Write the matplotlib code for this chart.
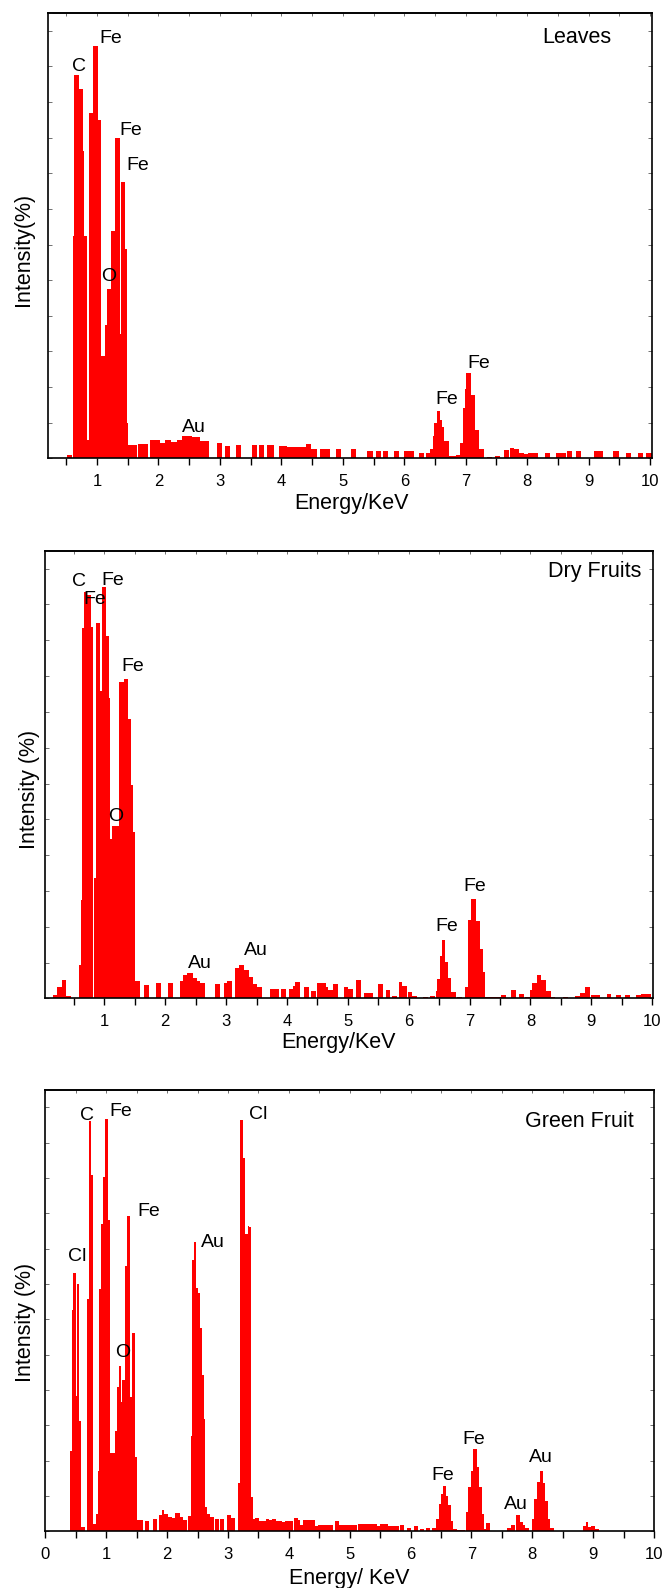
import matplotlib
matplotlib.use("Agg")
import matplotlib.pyplot as plt
from matplotlib.ticker import MultipleLocator
import numpy as np

plt.rcParams['font.family'] = ['Liberation Sans', 'DejaVu Sans']

# EDX spectra: bin start energy (keV) and relative intensity (%)
leaves_energy = [0.51, 0.61, 0.63, 0.715, 0.77, 0.79, 0.84, 0.87, 0.935, 1.015,
                 1.07, 1.125, 1.165, 1.235, 1.29, 1.375, 1.39, 1.45, 1.49, 1.505,
                 1.575, 1.67, 1.74, 1.87, 1.95, 2.03, 2.10, 2.16, 2.21, 2.30,
                 2.38, 2.46, 2.54, 2.61, 2.68, 2.74, 2.95, 3.08, 3.26, 3.52,
                 3.63, 3.76, 3.80, 3.96, 4.04, 4.10, 4.17, 4.24, 4.31, 4.40,
                 4.49, 4.63, 4.70, 4.89, 5.13, 5.40, 5.54, 5.65, 5.83, 6.00,
                 6.07, 6.24, 6.35, 6.42, 6.46, 6.49, 6.53, 6.58, 6.62, 6.65,
                 6.73, 6.77, 6.84, 6.91, 6.96, 6.99, 7.01, 7.08, 7.15, 7.22,
                 7.35, 7.47, 7.62, 7.72, 7.79, 7.87, 7.94, 8.02, 8.09, 8.29,
                 8.47, 8.55, 8.64, 8.79, 9.08, 9.15, 9.40, 9.61, 9.80, 9.94]
leaves_counts = [0.7, 50, 86, 83, 69, 50, 4, 77.5, 92.6, 76,
                 23, 30, 38, 51, 72, 28, 62, 47, 8, 3.0,
                 3.0, 3.1, 3.1, 4.0, 4.0, 3.5, 4.2, 4.2, 3.7, 4.0,
                 5.0, 5.0, 4.8, 4.8, 3.8, 3.8, 3.5, 2.8, 3.0, 3.0,
                 3.0, 2.9, 2.9, 2.8, 2.8, 2.5, 2.5, 2.5, 2.5, 3.2,
                 2.0, 2.0, 2.0, 2.0, 2.0, 1.6, 1.6, 1.6, 1.6, 1.6,
                 1.6, 1.2, 1.2, 2.0, 5.0, 8.0, 10.6, 8.5, 7.1, 3.9,
                 0.5, 0.6, 0.8, 3.4, 11.2, 15.5, 19.1, 14.2, 6.4, 2.2,
                 0.2, 0.5, 1.9, 2.4, 2.0, 1.3, 0.9, 1.1, 1.1, 1.1,
                 1.3, 1.3, 1.6, 1.6, 1.6, 1.6, 1.6, 1.3, 1.3, 1.3]

dry_energy = [0.16, 0.22, 0.30, 0.37, 0.58, 0.61, 0.63, 0.66, 0.72, 0.78,
              0.81, 0.83, 0.86, 0.93, 0.96, 1.03, 1.07, 1.09, 1.13, 1.19,
              1.24, 1.32, 1.39, 1.43, 1.47, 1.50, 1.65, 1.85, 2.04, 2.24,
              2.29, 2.35, 2.40, 2.45, 2.52, 2.57, 2.82, 2.97, 3.01, 3.15,
              3.22, 3.29, 3.38, 3.45, 3.51, 3.72, 3.79, 3.91, 4.04, 4.10,
              4.14, 4.28, 4.39, 4.50, 4.57, 4.64, 4.68, 4.76, 4.94, 5.01,
              5.13, 5.27, 5.34, 5.50, 5.62, 5.72, 5.84, 5.89, 5.99, 6.06,
              6.23, 6.35, 6.45, 6.47, 6.52, 6.55, 6.60, 6.65, 6.69, 6.79,
              6.92, 6.98, 7.03, 7.10, 7.17, 7.22, 7.26, 7.31, 7.39, 7.47,
              7.52, 7.68, 7.81, 7.91, 7.99, 8.03, 8.11, 8.18, 8.26, 8.33,
              8.54, 8.73, 8.82, 8.89, 9.00, 9.07, 9.25, 9.40, 9.55, 9.74,
              9.82, 9.90]
dry_counts = [0.7, 2.5, 4.1, 0.5, 7.4, 22, 82.7, 90.8, 90, 83,
              0, 27, 83.8, 68.6, 92, 81, 67, 35.7, 38.4, 38.4,
              70.7, 71.3, 62.5, 47.6, 37.2, 3.9, 2.9, 3.5, 3.5, 3.9,
              5.2, 5.6, 5.6, 4.5, 3.9, 3.4, 3.2, 3.4, 3.9, 6.8,
              7.4, 6.4, 4.8, 3.1, 2.6, 2.2, 2.2, 2.2, 2.2, 2.8,
              3.7, 2.6, 1.7, 3.4, 3.4, 2.5, 1.9, 3.2, 2.6, 2.2,
              4.2, 1.2, 1.2, 3.2, 1.9, 0.6, 3.7, 2.8, 1.5, 0.6,
              0.4, 0.6, 1.7, 4.3, 9.5, 13.0, 8.2, 4.5, 1.5, 0.4,
              2.5, 17.6, 22.2, 17.3, 11.0, 5.8, 0.3, 0.4, 0.2, 0.4,
              0.7, 1.9, 1.0, 0.4, 1.9, 3.4, 5.2, 4.1, 1.7, 0.2,
              0.2, 0.6, 1.2, 2.5, 0.8, 0.8, 1.0, 0.8, 0.8, 0.8,
              1.0, 1.0]

green_energy = [0.40, 0.43, 0.46, 0.50, 0.51, 0.55, 0.59, 0.68, 0.71, 0.75,
                0.78, 0.835, 0.857, 0.885, 0.912, 0.94, 0.978, 1.023, 1.067, 1.10,
                1.148, 1.17, 1.203, 1.246, 1.257, 1.312, 1.345, 1.394, 1.427, 1.465,
                1.504, 1.532, 1.643, 1.77, 1.87, 1.908, 1.947, 2.02, 2.074, 2.123,
                2.17, 2.212, 2.257, 2.34, 2.385, 2.406, 2.439, 2.473, 2.506, 2.544,
                2.572, 2.60, 2.628, 2.655, 2.71, 2.794, 2.876, 2.987, 3.042, 3.17,
                3.203, 3.247, 3.28, 3.32, 3.352, 3.385, 3.413, 3.45, 3.51, 3.57,
                3.63, 3.68, 3.73, 3.79, 3.84, 3.88, 3.94, 4.00, 4.09, 4.15,
                4.18, 4.24, 4.30, 4.36, 4.43, 4.48, 4.54, 4.60, 4.66, 4.76,
                4.82, 4.88, 4.94, 5.00, 5.06, 5.14, 5.20, 5.26, 5.32, 5.38,
                5.44, 5.50, 5.56, 5.63, 5.69, 5.75, 5.83, 5.94, 6.05, 6.16,
                6.26, 6.35, 6.41, 6.46, 6.50, 6.54, 6.58, 6.62, 6.66, 6.70,
                6.76, 6.83, 6.905, 6.95, 6.99, 7.03, 7.09, 7.12, 7.17, 7.21,
                7.24, 7.33, 7.42, 7.50, 7.58, 7.65, 7.74, 7.79, 7.84, 7.88,
                7.99, 8.03, 8.07, 8.12, 8.17, 8.21, 8.25, 8.29, 8.45, 8.60,
                8.72, 8.84, 8.88, 8.92, 8.96, 9.03, 9.28, 9.47, 9.66]
green_counts = [18.1, 50.2, 58.5, 30.7, 55.9, 25, 1.0, 52.7, 92.8, 80.6,
                1.8, 4, 13.6, 54.9, 69.6, 80.3, 93.4, 70.4, 17.8, 17.8,
                22.8, 32.8, 37.5, 29.4, 34.3, 60.0, 71.4, 30.5, 44.8, 16.9,
                2.6, 2.7, 2.4, 2.9, 3.7, 4.8, 3.9, 3.3, 3.1, 4.2,
                4.2, 3.3, 2.7, 3.5, 21.6, 61.4, 65.6, 55.1, 54, 46,
                35.4, 25.4, 5.6, 4, 3.3, 2.9, 2.9, 3.7, 3.1, 10.9,
                93.2, 84.5, 67.3, 69.2, 68.8, 7.9, 2.9, 3.1, 2.4, 2.4,
                2.9, 2.5, 2.9, 2.4, 2.4, 2.1, 2.4, 2.4, 3.1, 2.5,
                1.5, 2.6, 2.6, 2.6, 1.3, 1.5, 1.5, 1.5, 1.5, 2.4,
                1.5, 1.5, 1.5, 1.5, 1.5, 1.7, 1.7, 1.7, 1.7, 1.7,
                1.3, 1.6, 1.6, 1.3, 1.3, 1.3, 1.5, 0.7, 1.3, 0.5,
                0.7, 0.75, 2.8, 6.2, 8.4, 10.2, 8.1, 6.0, 2.4, 0.5,
                0.4, 0.4, 4.3, 10, 13.7, 18.6, 14.5, 10, 3.9, 0.5,
                2.0, 0.15, 0.15, 0.15, 0.7, 1.4, 3.7, 2.2, 1.4, 0.7,
                2.8, 7.3, 11.2, 13.7, 10.9, 6.9, 2.8, 0.7, 0.2, 0.2,
                0.2, 1.3, 2.2, 0.9, 1.3, 0.5, 0.15, 0.15, 0.15]

# peak labels: (text, energy, intensity)
leaves_peaks = [('C', 0.71, 88.1), ('Fe', 1.23, 94.3), ('Fe', 1.55, 73.6),
                ('Fe', 1.66, 65.7), ('O', 1.19, 40.8), ('Au', 2.57, 6.9),
                ('Fe', 6.69, 13.2), ('Fe', 7.21, 21.2)]
dry_peaks = [('C', 0.59, 93.1), ('Fe', 0.85, 89.1), ('Fe', 1.14, 93.4),
             ('Fe', 1.47, 74.1), ('O', 1.18, 40.6), ('Au', 2.57, 7.8),
             ('Au', 3.49, 10.8), ('Fe', 6.63, 16.0), ('Fe', 7.09, 24.9)]
green_peaks = [('Cl', 0.52, 62.3), ('C', 0.68, 94.1), ('Fe', 1.24, 95.1),
               ('Fe', 1.69, 72.3), ('O', 1.27, 40.4), ('Au', 2.75, 65.4),
               ('Cl', 3.49, 94.4), ('Fe', 6.53, 12.6), ('Fe', 7.03, 20.9),
               ('Au', 7.73, 6.2), ('Au', 8.14, 16.7)]

panels = [
    dict(energy=leaves_energy, counts=leaves_counts, peaks=leaves_peaks,
         name='Leaves', name_pos=(8.81, 94.6), ylabel='Intensity(%)',
         xlabel='Energy/KeV', rect=[0.0721, 0.7114, 0.9128, 0.2804],
         xlim=(0.2, 10.03), wmax=0.085, ylab_xy=(-0.0235, 0.468), xlab_xy=(0.502, -0.077)),
    dict(energy=dry_energy, counts=dry_counts, peaks=dry_peaks,
         name='Dry Fruits', name_pos=(9.06, 95.3), ylabel='Intensity (%)',
         xlabel='Energy/KeV', rect=[0.0684, 0.3713, 0.9187, 0.2819],
         xlim=(0.03, 10.02), wmax=0.08, ylab_xy=(-0.0095, 0.467), xlab_xy=(0.482, -0.075)),
    dict(energy=green_energy, counts=green_counts, peaks=green_peaks,
         name='Green Fruit', name_pos=(8.78, 92.7), ylabel='Intensity (%)',
         xlabel='Energy/ KeV', rect=[0.0687, 0.0356, 0.9192, 0.2783],
         xlim=(0, 10), wmax=0.065, ylab_xy=(-0.015, 0.473), xlab_xy=(0.4995, -0.082)),
]

fig = plt.figure(figsize=(6.62, 15.88), dpi=100)

for p in panels:
    ax = fig.add_axes(p['rect'])
    e = np.array(p['energy'])
    c = np.array(p['counts'])
    # bin widths follow the spacing of the bins, capped for isolated bins
    w = np.minimum(np.diff(np.append(e, e[-1] + p['wmax'])), p['wmax'])
    ax.bar(e, c, w, align='edge', color='#ff0000', linewidth=0, zorder=2)

    for txt, x, y in p['peaks']:
        ax.text(x, y, txt, ha='center', va='center', fontsize=14, zorder=3)
    ax.text(p['name_pos'][0], p['name_pos'][1], p['name'], ha='center', va='center', fontsize=15.5)

    ax.set_xlim(*p['xlim'])
    ax.set_ylim(0, 100)
    ax.xaxis.set_major_locator(MultipleLocator(1))
    ax.xaxis.set_minor_locator(MultipleLocator(0.5))
    ax.yaxis.set_major_locator(MultipleLocator(8))
    ax.tick_params(axis='x', which='both', direction='out', length=5, width=1.0,
                   labelsize=12, pad=6, top=False)
    ax.tick_params(axis='y', which='both', direction='in', length=3, width=0.6,
                   color='0.35', left=True, right=True, labelleft=False)
    ax.yaxis.set_minor_locator(MultipleLocator(100))

    top = ax.secondary_xaxis('top')
    top.xaxis.set_major_locator(MultipleLocator(0.5))
    top.tick_params(direction='in', length=2.5, width=0.6, color='0.35', labeltop=False)
    top.spines['top'].set_linewidth(1.2)

    for s in ax.spines.values():
        s.set_linewidth(1.2)

    ax.set_ylabel(p['ylabel'], fontsize=15.5)
    ax.yaxis.set_label_coords(*p['ylab_xy'])
    ax.set_xlabel(p['xlabel'], fontsize=15.5)
    ax.xaxis.set_label_coords(*p['xlab_xy'])

plt.savefig('out.png', dpi=100)
